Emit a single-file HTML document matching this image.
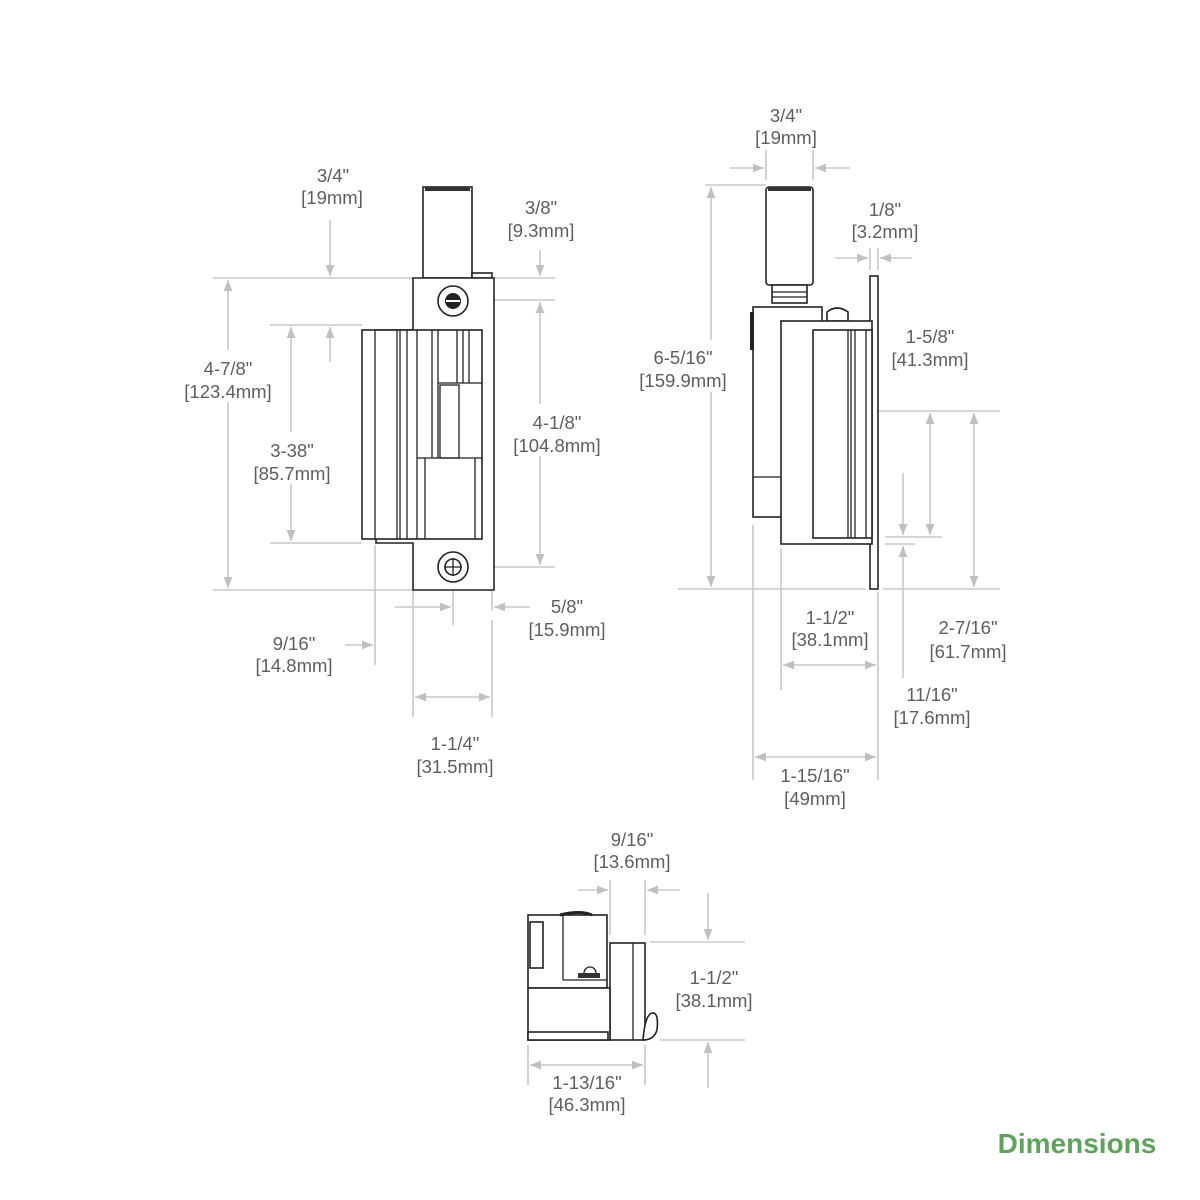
<!DOCTYPE html>
<html><head><meta charset="utf-8"><style>
html,body{margin:0;padding:0;background:#fff;}
svg{display:block}
text{font-family:"Liberation Sans",sans-serif;font-size:18.5px;fill:#5e5e5e;text-anchor:middle}
.d{stroke:#c8c8c8;stroke-width:1.6;fill:none}
.o{stroke:#222;stroke-width:1.6;fill:#fff}
.l{stroke:#222;stroke-width:1.3;fill:none}
</style></head><body>
<svg width="1200" height="1200" viewBox="0 0 1200 1200">
<defs>
<marker id="a" viewBox="0 0 10 10" refX="10" refY="5" markerWidth="7" markerHeight="7" orient="auto-start-reverse"><path d="M0,1 L10,5 L0,9z" fill="#c0c0c0"/></marker>
</defs>
<!-- ===== FRONT VIEW ===== -->
<g class="d">
<line x1="213" y1="278" x2="413" y2="278"/><line x1="213" y1="590" x2="413" y2="590"/>
<line x1="270" y1="325" x2="362" y2="325"/><line x1="270" y1="543" x2="362" y2="543"/>
<line x1="494" y1="278" x2="555" y2="278"/><line x1="470" y1="300" x2="555" y2="300"/>
<line x1="470" y1="567" x2="555" y2="567"/>
<line x1="453" y1="580" x2="453" y2="625"/><line x1="492" y1="590" x2="492" y2="610"/>
<line x1="375" y1="545" x2="375" y2="665"/>
<line x1="413" y1="590" x2="413" y2="717"/><line x1="492" y1="620" x2="492" y2="717"/>
</g>
<g class="d" marker-end="url(#a)">
<line x1="330" y1="220" x2="330" y2="276"/>
<line x1="540" y1="250" x2="540" y2="276"/>
<line x1="330" y1="362" x2="330" y2="327"/>
<line x1="395" y1="607" x2="451" y2="607"/>
<line x1="530" y1="607" x2="494" y2="607"/>
<line x1="345" y1="645" x2="373" y2="645"/>
</g>
<g class="d" marker-start="url(#a)" marker-end="url(#a)">
<line x1="228" y1="280" x2="228" y2="588"/>
<line x1="291" y1="327" x2="291" y2="541"/>
<line x1="540" y1="302" x2="540" y2="565"/>
<line x1="415" y1="697" x2="490" y2="697"/>
</g>
<rect x="180" y="350" width="100" height="52" fill="#fff"/>
<rect x="245" y="432" width="95" height="52" fill="#fff"/>
<rect x="505" y="404" width="105" height="52" fill="#fff"/>
<rect class="o" x="423" y="187" width="49" height="91"/>
<rect x="425" y="187" width="45" height="4" fill="#333"/>
<rect class="o" x="472" y="273" width="20" height="5"/>
<path class="o" d="M413,278 H494 V590 H413 V543 H376 V330 H413 Z"/>
<rect class="o" x="362" y="330" width="120" height="209"/>
<g class="l">
<line x1="375" y1="330" x2="375" y2="539"/><line x1="397" y1="330" x2="397" y2="539"/>
<line x1="400" y1="330" x2="400" y2="539"/><line x1="407" y1="330" x2="407" y2="539"/>
<line x1="417" y1="330" x2="417" y2="539"/><line x1="432" y1="330" x2="432" y2="458"/>
<line x1="438" y1="330" x2="438" y2="458"/>
<line x1="457" y1="330" x2="457" y2="383"/><line x1="463" y1="330" x2="463" y2="383"/><line x1="469" y1="330" x2="469" y2="383"/>
<line x1="438" y1="383" x2="482" y2="383"/>
<rect x="440" y="385" width="19" height="73"/>
<line x1="417" y1="458" x2="482" y2="458"/>
<line x1="425" y1="458" x2="425" y2="539"/><line x1="475" y1="458" x2="475" y2="539"/>
</g>
<circle class="o" cx="453" cy="301" r="15"/><circle cx="453" cy="301" r="8" fill="#222"/>
<line x1="446" y1="301" x2="460" y2="301" stroke="#fff" stroke-width="2"/>
<circle class="o" cx="453" cy="567" r="15"/><circle class="o" cx="453" cy="567" r="8"/>
<line x1="444" y1="567" x2="462" y2="567" class="l"/><line x1="453" y1="558" x2="453" y2="576" class="l"/>
<text x="333" y="182">3/4"</text><text x="332" y="204">[19mm]</text>
<text x="541" y="214">3/8"</text><text x="541" y="237">[9.3mm]</text>
<text x="228" y="375">4-7/8"</text><text x="228" y="398">[123.4mm]</text>
<text x="292" y="457">3-38"</text><text x="292" y="480">[85.7mm]</text>
<text x="557" y="429">4-1/8"</text><text x="557" y="452">[104.8mm]</text>
<text x="567" y="613">5/8"</text><text x="567" y="636">[15.9mm]</text>
<text x="294" y="650">9/16"</text><text x="294" y="672">[14.8mm]</text>
<text x="455" y="750">1-1/4"</text><text x="455" y="773">[31.5mm]</text>
<!-- ===== SIDE VIEW ===== -->
<g class="d">
<line x1="766" y1="150" x2="766" y2="180"/><line x1="813" y1="150" x2="813" y2="180"/>
<line x1="705" y1="185" x2="766" y2="185"/><line x1="678" y1="589" x2="866" y2="589"/><line x1="883" y1="589" x2="1000" y2="589"/>
<line x1="870" y1="248" x2="870" y2="270"/><line x1="878" y1="248" x2="878" y2="270"/>
<line x1="830" y1="411" x2="1000" y2="411"/>
<line x1="885" y1="537" x2="942" y2="537"/><line x1="885" y1="544" x2="915" y2="544"/>
<line x1="781" y1="548" x2="781" y2="690"/><line x1="878" y1="592" x2="878" y2="780"/>
<line x1="753" y1="525" x2="753" y2="780"/>
</g>
<g class="d" marker-end="url(#a)">
<line x1="730" y1="168" x2="764" y2="168"/><line x1="850" y1="168" x2="815" y2="168"/>
<line x1="835" y1="258" x2="868" y2="258"/><line x1="912" y1="258" x2="880" y2="258"/>
<line x1="903" y1="473" x2="903" y2="535"/><line x1="903" y1="680" x2="903" y2="546"/>
</g>
<g class="d" marker-start="url(#a)" marker-end="url(#a)">
<line x1="711" y1="187" x2="711" y2="587"/>
<line x1="930" y1="413" x2="930" y2="535"/>
<line x1="974" y1="413" x2="974" y2="587"/>
<line x1="783" y1="665" x2="876" y2="665"/>
<line x1="755" y1="757" x2="876" y2="757"/>
</g>
<rect x="635" y="340" width="96" height="52" fill="#fff"/>
<rect x="890" y="320" width="85" height="52" fill="#fff"/>
<rect x="925" y="610" width="85" height="52" fill="#fff"/>
<rect x="890" y="678" width="85" height="52" fill="#fff"/>
<rect class="o" x="766" y="187" width="47" height="98" rx="3"/>
<rect x="768" y="187" width="43" height="4" fill="#333"/>
<rect class="o" x="772" y="285" width="35" height="18"/>
<line class="l" x1="772" y1="292" x2="807" y2="292"/><line class="l" x1="772" y1="297" x2="807" y2="297"/>
<rect class="o" x="753" y="307" width="69" height="210"/>
<rect x="750" y="312" width="4" height="38" fill="#222"/>
<line class="l" x1="753" y1="477" x2="781" y2="477"/>
<path class="o" d="M827,321 V312 Q837,304 848,312 V321 Z"/>
<rect class="o" x="870" y="276" width="8" height="313"/>
<rect class="o" x="781" y="321" width="91" height="223"/>
<rect class="o" x="813" y="330" width="59" height="208"/>
<g class="l"><line x1="848" y1="330" x2="848" y2="538"/><line x1="851" y1="330" x2="851" y2="538"/><line x1="855" y1="330" x2="855" y2="538"/><line x1="866" y1="330" x2="866" y2="538"/></g>
<text x="786" y="122">3/4"</text><text x="786" y="144">[19mm]</text>
<text x="885" y="216">1/8"</text><text x="885" y="238">[3.2mm]</text>
<text x="683" y="364">6-5/16"</text><text x="683" y="387">[159.9mm]</text>
<text x="930" y="343">1-5/8"</text><text x="930" y="366">[41.3mm]</text>
<text x="830" y="624">1-1/2"</text><text x="830" y="646">[38.1mm]</text>
<text x="968" y="634">2-7/16"</text><text x="968" y="658">[61.7mm]</text>
<text x="932" y="701">11/16"</text><text x="932" y="724">[17.6mm]</text>
<text x="815" y="782">1-15/16"</text><text x="815" y="805">[49mm]</text>
<!-- ===== BOTTOM VIEW ===== -->
<g class="d">
<line x1="610" y1="880" x2="610" y2="935"/><line x1="645" y1="880" x2="645" y2="935"/>
<line x1="650" y1="942" x2="745" y2="942"/><line x1="660" y1="1040" x2="745" y2="1040"/>
<line x1="528" y1="1045" x2="528" y2="1085"/><line x1="645" y1="1045" x2="645" y2="1085"/>
</g>
<g class="d" marker-end="url(#a)">
<line x1="578" y1="890" x2="608" y2="890"/><line x1="680" y1="890" x2="647" y2="890"/>
<line x1="708" y1="893" x2="708" y2="940"/><line x1="708" y1="1088" x2="708" y2="1042"/>
</g>
<g class="d" marker-start="url(#a)" marker-end="url(#a)"><line x1="530" y1="1065" x2="643" y2="1065"/></g>
<rect class="o" x="528" y="915" width="79" height="73"/>
<path d="M560,915 Q580,910 592,915" stroke="#222" stroke-width="3" fill="none"/>
<line class="l" x1="563" y1="915" x2="563" y2="980"/><line class="l" x1="563" y1="980" x2="607" y2="980"/>
<rect class="o" x="530" y="922" width="13" height="46"/>
<path d="M584,973 a6,6 0 0 1 12,0" class="l"/><rect x="578" y="973" width="22" height="5" fill="#333"/>
<rect class="o" x="610" y="943" width="35" height="97"/>
<line class="l" x1="633" y1="943" x2="633" y2="1040"/>
<rect class="o" x="528" y="988" width="82" height="52"/>
<rect class="o" x="528" y="1032" width="80" height="8"/>
<path class="o" d="M643,1040 Q645,1015 652,1013 Q659,1012 657,1030 Q654,1040 643,1040 Z"/>
<text x="632" y="846">9/16"</text><text x="632" y="868">[13.6mm]</text>
<text x="714" y="984">1-1/2"</text><text x="714" y="1007">[38.1mm]</text>
<text x="587" y="1089">1-13/16"</text><text x="587" y="1111">[46.3mm]</text>
<text x="1077" y="1153" style="font-size:28px;fill:#5fa35a;font-weight:bold">Dimensions</text>
</svg>
</body></html>
